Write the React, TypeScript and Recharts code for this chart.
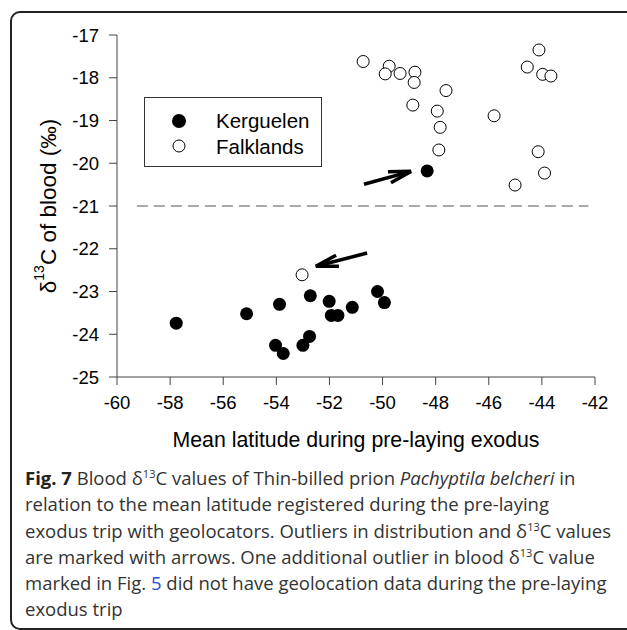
import { Label, ReferenceLine, Scatter, ScatterChart, XAxis, YAxis } from "recharts";

const xTicks = [-60, -58, -56, -54, -52, -50, -48, -46, -44, -42];
const yTicks = [-25, -24, -23, -22, -21, -20, -19, -18, -17];

// Kerguelen birds (filled)
const kerguelenLat = [-48.32, -57.77, -55.12, -53.88, -52.72, -52.01, -51.93, -51.68, -51.14, -50.19, -49.93, -54.03, -53.74, -53.0, -52.75];
const kerguelenC = [-20.18, -23.74, -23.52, -23.3, -23.1, -23.23, -23.56, -23.56, -23.37, -23.0, -23.26, -24.26, -24.45, -24.26, -24.05];

// Falklands birds (open)
const falklandsLat = [-50.73, -49.75, -49.9, -49.34, -48.78, -48.81, -47.61, -48.86, -47.94, -47.83, -47.88, -45.8, -44.11, -44.55, -43.97, -43.66, -44.14, -43.9, -45.01, -53.03];
const falklandsC = [-17.62, -17.73, -17.91, -17.9, -17.87, -18.11, -18.3, -18.64, -18.78, -19.16, -19.69, -18.89, -17.35, -17.75, -17.92, -17.96, -19.73, -20.23, -20.51, -22.61];

const threshold = -21;

// outlier arrows (data coordinates)
const arrowTail1 = { x: -50.7, y: -20.49 };
const arrowHead1 = { x: -48.93, y: -20.19 };
const arrowTail2 = { x: -50.58, y: -22.1 };
const arrowHead2 = { x: -52.51, y: -22.41 };

const kerguelen = kerguelenLat.map((x, i) => ({ x, y: kerguelenC[i] }));
const falklands = falklandsLat.map((x, i) => ({ x, y: falklandsC[i] }));

const axisFont = "'Liberation Sans', Arial, sans-serif";

const FilledDot = (p: any) => <circle cx={p.cx} cy={p.cy} r={6.5} fill="#000" />;
const OpenDot = (p: any) => <circle cx={p.cx} cy={p.cy} r={6} fill="#fff" stroke="#000" strokeWidth={1} />;

const Arrow = (p: any) => {
  const { x1, y1, x2, y2 } = p;
  const a = Math.atan2(y2 - y1, x2 - x1);
  const len = 23;
  const w = 0.25;
  const ax = x2 - len * Math.cos(a - w);
  const ay = y2 - len * Math.sin(a - w);
  const bx = x2 - len * Math.cos(a + w);
  const by = y2 - len * Math.sin(a + w);
  return (
    <g>
      <line x1={x1} y1={y1} x2={x2} y2={y2} stroke="#000" strokeWidth={3.5} />
      <polyline points={`${ax},${ay} ${x2},${y2} ${bx},${by}`} fill="none" stroke="#000" strokeWidth={3.5} strokeLinejoin="miter" />
    </g>
  );
};

const YTitle = (p: any) => {
  const vb = p.viewBox;
  const cx = 48;
  const cy = vb.y + vb.height / 2;
  return (
    <text
      x={cx}
      y={cy}
      transform={`rotate(-90, ${cx}, ${cy})`}
      textAnchor="middle"
      dominantBaseline="central"
      fontSize={22.5}
      fontFamily={axisFont}
      fill="#000"
    >
      δ<tspan dy={-9} fontSize={14}>13</tspan>
      <tspan dy={9}>C of blood (‰)</tspan>
    </text>
  );
};

const LegendBox = () => (
  <div
    style={{
      position: "absolute",
      left: 144,
      top: 97,
      width: 176,
      height: 68,
      border: "1px solid #333",
      background: "#fff",
    }}
  >
    <svg width={176} height={68} style={{ position: "absolute", left: 0, top: 0 }}>
      <circle cx={34} cy={23} r={7} fill="#000" />
      <circle cx={34} cy={48} r={6} fill="#fff" stroke="#000" />
      <text x={71} y={30} fontSize={20.5} fontFamily={axisFont}>Kerguelen</text>
      <text x={71} y={56} fontSize={20.5} fontFamily={axisFont}>Falklands</text>
    </svg>
  </div>
);

const captionLine = { whiteSpace: "nowrap" as const, height: 26.3, lineHeight: "26.3px" };
const sup = { fontSize: 11, lineHeight: 0 };

export default function App() {
  return (
    <div style={{ position: "absolute", left: 0, top: 0, width: 627, height: 630, overflow: "hidden", background: "#fff" }}>
      <div
        style={{
          position: "absolute",
          left: 10,
          top: 11,
          width: 660,
          height: 615,
          border: "2px solid #222",
          borderRadius: 10,
        }}
      />
      <div style={{ position: "absolute", left: 0, top: 0 }}>
        <ScatterChart width={627} height={462} margin={{ top: 35, right: 32, bottom: 15, left: 0 }}>
          <XAxis
            type="number"
            dataKey="x"
            domain={[-60, -42]}
            ticks={xTicks}
            tickSize={8}
            tickMargin={11}
            height={70}
            stroke="#444"
            tick={{ fill: "#000", fontSize: 18.5, fontFamily: axisFont }}
            allowDataOverflow
          >
            <Label
              value="Mean latitude during pre-laying exodus"
              position="insideBottom"
              offset={0}
              style={{ fill: "#000", fontSize: 21.3, fontFamily: axisFont }}
            />
          </XAxis>
          <YAxis
            type="number"
            dataKey="y"
            domain={[-25, -17]}
            ticks={yTicks}
            tickSize={8}
            tickMargin={10}
            width={117}
            stroke="#444"
            tick={{ fill: "#000", fontSize: 18.5, fontFamily: axisFont }}
            allowDataOverflow
          >
            <Label content={<YTitle />} />
          </YAxis>
          <ReferenceLine
            segment={[
              { x: -59.25, y: threshold },
              { x: -42.25, y: threshold },
            ]}
            stroke="#555"
            strokeWidth={1}
            strokeDasharray="11 6"
            ifOverflow="visible"
          />
          <ReferenceLine segment={[arrowTail1, arrowHead1]} shape={<Arrow />} ifOverflow="visible" />
          <ReferenceLine segment={[arrowTail2, arrowHead2]} shape={<Arrow />} ifOverflow="visible" />
          <Scatter name="Kerguelen" data={kerguelen} shape={<FilledDot />} isAnimationActive={false} />
          <Scatter name="Falklands" data={falklands} shape={<OpenDot />} isAnimationActive={false} />
        </ScatterChart>
      </div>
      <LegendBox />
      <div
        style={{
          position: "absolute",
          left: 25,
          top: 465,
          fontFamily: "'Open Sans', sans-serif",
          fontSize: 18.5,
          color: "#333",
        }}
      >
        <div style={captionLine}>
          <b style={{ color: "#222" }}>Fig. 7</b> Blood δ<sup style={sup}>13</sup>C values of Thin-billed prion{" "}
          <i>Pachyptila belcheri</i> in
        </div>
        <div style={captionLine}>relation to the mean latitude registered during the pre-laying</div>
        <div style={captionLine}>
          exodus trip with geolocators. Outliers in distribution and δ<sup style={sup}>13</sup>C values
        </div>
        <div style={captionLine}>
          are marked with arrows. One additional outlier in blood δ<sup style={sup}>13</sup>C value
        </div>
        <div style={captionLine}>
          marked in Fig. <span style={{ color: "#2b4fd8" }}>5</span> did not have geolocation data during the pre-laying
        </div>
        <div style={captionLine}>exodus trip</div>
      </div>
    </div>
  );
}
